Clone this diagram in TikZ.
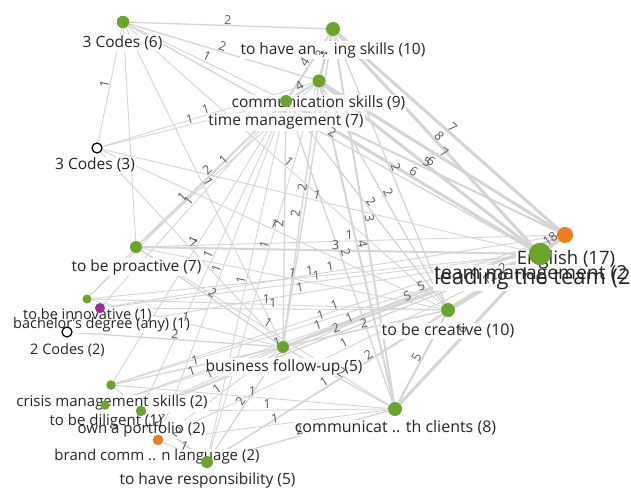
\documentclass[tikz,border=0pt]{standalone}
\usepackage{fontspec}
\setmainfont{Open Sans}
\pgfdeclarelayer{paper}
\pgfdeclarelayer{edgelayer}
\pgfdeclarelayer{bglayer}
\pgfdeclarelayer{elablayer}
\pgfdeclarelayer{dotlayer}
\pgfsetlayers{paper,edgelayer,bglayer,elablayer,main,dotlayer}
\definecolor{gdot}{HTML}{6AA42A}
\definecolor{odot}{HTML}{EE7B1C}
\definecolor{pdot}{HTML}{9A2E9E}
\definecolor{edgec}{HTML}{D5D5D5}
\definecolor{elabc}{HTML}{5A5A5A}
\definecolor{txtc}{HTML}{262626}
\tikzset{
  gd/.style={circle,fill=gdot,draw=none,inner sep=0pt,minimum size=#1pt},
  od/.style={circle,fill=odot,draw=none,inner sep=0pt,minimum size=#1pt},
  pd/.style={circle,fill=pdot,draw=none,inner sep=0pt,minimum size=#1pt},
  wd/.style={circle,fill=white,draw=black,line width=1.2pt,inner sep=0pt,minimum size=#1pt},
  lbl/.style={text=txtc,inner sep=1pt},
  lblbg/.style={fill=white,inner sep=1pt},
  elab/.style={midway,sloped,above=0.5pt,inner sep=0.5pt,text=elabc,font=\fontsize{12.5}{12.5}\selectfont},
  w1/.style={draw=edgec,line width=0.9pt},
  w2/.style={draw=edgec,line width=1.3pt},
  w3/.style={draw=edgec,line width=2pt},
  w4/.style={draw=edgec,line width=3pt},
  w5/.style={draw=edgec,line width=4.5pt},
}
\newcommand\gn[7]{%
  \begin{pgfonlayer}{dotlayer}\node[#3] (#1) at (#2) {};\end{pgfonlayer}%
  \begin{pgfonlayer}{bglayer}\node[lblbg,font=\fontsize{#5}{#5}\selectfont,anchor=#6] at (#4) {\phantom{#7}};\end{pgfonlayer}%
  \node[lbl,font=\fontsize{#5}{#5}\selectfont,anchor=#6] (#1-l) at (#4) {#7};}
\newcommand\ed[4]{%
  \begin{pgfonlayer}{edgelayer}\draw[#4] (#1) -- (#2);\end{pgfonlayer}%
  \begin{pgfonlayer}{elablayer}\path (#1) -- (#2) node[elab] {#3};\end{pgfonlayer}}
\begin{document}
\begin{tikzpicture}[x=1pt,y=-1pt]
\begin{pgfonlayer}{paper}
\fill[white] (0,0) rectangle (631,491);
\end{pgfonlayer}
\useasboundingbox (0,0) rectangle (631,491);
% nodes
\gn{A}{123,22}{gd=12.5}{122.5,43}{15.5}{center}{3 Codes (6)}
\gn{B}{333,29}{gd=14}{333,50}{15.5}{center}{to have an .. ing skills (10)}
\gn{C}{319,81}{gd=13}{318.5,103}{15.5}{center}{communication skills (9)}
\gn{D}{286,101}{gd=12}{286,122}{15.5}{center}{time management (7)}
\gn{E}{97,148}{wd=10}{95,165}{15.5}{center}{3 Codes (3)}
\gn{F}{136,247}{gd=12}{136.5,267}{15.5}{center}{to be proactive (7)}
\gn{G}{87,299}{gd=9}{87.5,315}{14.5}{center}{to be innovative (1)}
\gn{H}{100,308}{pd=10}{101.5,325}{14.5}{center}{bachelor's degree (any) (1)}
\gn{I}{67,332}{wd=10}{67.5,350}{14.5}{center}{2 Codes (2)}
\gn{J}{540,254}{gd=22}{433,275}{19.3}{west}{team management (2}
\gn{J2}{540,254}{gd=22}{433,279}{21.9}{west}{leading the team (2}
\gn{K}{565,235}{od=16}{566,260}{18.5}{center}{English (17)}
\gn{L}{448,310}{gd=14}{448,331}{16}{center}{to be creative (10)}
\gn{M}{283,347}{gd=12}{284,367}{15.5}{center}{business follow-up (5)}
\gn{N}{111,385}{gd=9.5}{112,403}{15}{center}{crisis management skills (2)}
\gn{O}{105,405}{gd=9.5}{106,422}{15}{center}{to be diligent (1)}
\gn{P}{141,411}{gd=10.5}{141.5,430}{15}{center}{own a portfolio (2)}
\gn{Q}{158,440}{od=10.5}{157,457}{15}{center}{brand comm .. n language (2)}
\gn{R}{207,462}{gd=12}{207.5,480}{15.5}{center}{to have responsibility (5)}
\gn{S}{395,409}{gd=14}{395.5,428}{16}{center}{communicat .. th clients (8)}
% edges
\ed{B}{K}{7}{w4}
\ed{B}{J}{8}{w4}
\ed{C}{K}{7}{w4}
\ed{C}{J}{6}{w4}
\ed{D}{K}{5}{w3}
\ed{D}{J}{6}{w4}
\ed{K}{J}{18}{w5}
\ed{L}{J}{12}{w5}
\ed{L}{K}{2}{w2}
\ed{S}{J}{6}{w4}
\ed{S}{L}{5}{w3}
\ed{M}{J}{5}{w3}
\ed{M}{K}{5}{w3}
\ed{R}{J}{2}{w2}
\ed{R}{S}{2}{w2}
\ed{A}{B}{2}{w2}
\ed{A}{C}{2}{w2}
\ed{A}{E}{1}{w1}
\ed{A}{F}{}{w1}
\ed{A}{D}{1}{w1}
\ed{A}{J}{2}{w2}
\ed{A}{M}{1}{w1}
\ed{A}{L}{1}{w1}
\ed{B}{C}{3}{w3}
\ed{B}{D}{4}{w3}
\ed{C}{D}{4}{w3}
\ed{B}{L}{2}{w2}
\ed{B}{S}{3}{w3}
\ed{B}{M}{2}{w2}
\ed{B}{R}{1}{w1}
\ed{C}{L}{2}{w2}
\ed{C}{S}{4}{w3}
\ed{C}{M}{2}{w2}
\ed{D}{F}{2}{w2}
\ed{D}{G}{1}{w1}
\ed{D}{H}{1}{w1}
\ed{D}{N}{1}{w1}
\ed{D}{P}{1}{w1}
\ed{D}{M}{2}{w2}
\ed{D}{S}{2}{w2}
\ed{D}{L}{2}{w2}
\ed{D}{R}{1}{w1}
\ed{D}{Q}{1}{w1}
\ed{E}{D}{1}{w1}
\ed{E}{C}{1}{w1}
\ed{E}{J}{1}{w1}
\ed{E}{L}{1}{w1}
\ed{E}{M}{1}{w1}
\ed{F}{J}{3}{w3}
\ed{F}{K}{1}{w1}
\ed{F}{L}{1}{w1}
\ed{F}{M}{2}{w2}
\ed{F}{G}{}{w1}
\ed{F}{S}{1}{w1}
\ed{F}{C}{1}{w1}
\ed{G}{J}{1}{w1}
\ed{G}{L}{1}{w1}
\ed{G}{M}{1}{w1}
\ed{H}{J}{1}{w1}
\ed{H}{K}{1}{w1}
\ed{H}{L}{1}{w1}
\ed{I}{J}{1}{w1}
\ed{I}{M}{2}{w2}
\ed{L}{M}{2}{w2}
\ed{L}{R}{1}{w1}
\ed{L}{N}{1}{w1}
\ed{S}{M}{2}{w2}
\ed{S}{N}{1}{w1}
\ed{S}{P}{1}{w1}
\ed{S}{Q}{1}{w1}
\ed{M}{R}{2}{w2}
\ed{M}{N}{1}{w1}
\ed{M}{O}{1}{w1}
\ed{M}{P}{1}{w1}
\ed{M}{Q}{1}{w1}
\ed{R}{N}{1}{w1}
\ed{R}{P}{2}{w2}
\ed{R}{Q}{1}{w1}
\ed{N}{J}{1}{w1}
\ed{N}{K}{1}{w1}
\ed{O}{J}{1}{w1}
\ed{P}{J}{2}{w2}
\ed{P}{K}{1}{w1}
\ed{Q}{J}{1}{w1}
\end{tikzpicture}
\end{document}
